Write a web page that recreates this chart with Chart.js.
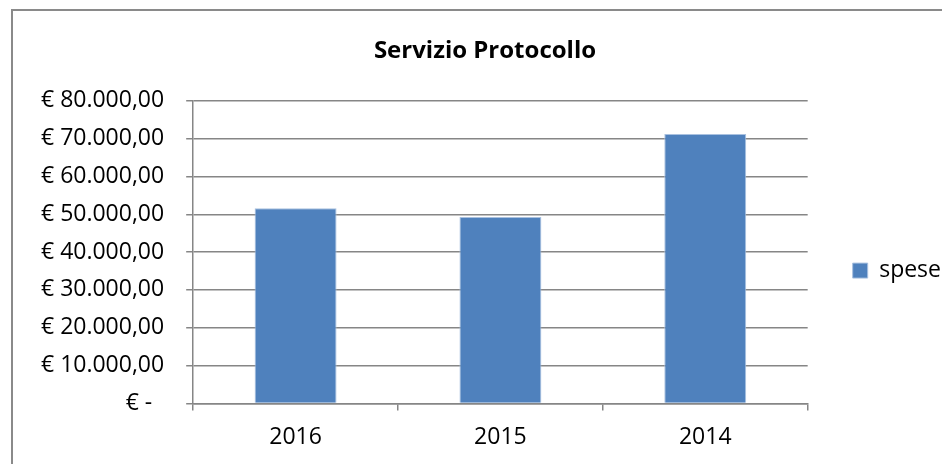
<!DOCTYPE html>
<html>
<head>
<meta charset="utf-8">
<script src="https://cdn.jsdelivr.net/npm/chart.js@4.4.0/dist/chart.umd.min.js"></script>
<style>
  html, body { margin: 0; padding: 0; background: #fff; overflow: hidden; }
  body { width: 942px; height: 464px; position: relative; }
  #frame { position: absolute; left: 11px; top: 9px; width: 1000px; height: 1000px; border: 2px solid #8a8a8a; }
  #wrap { position: absolute; left: 19px; top: 10px; width: 932px; height: 454px; }
</style>
</head>
<body>
<div id="frame"></div>
<div id="wrap"><canvas id="chart"></canvas></div>
<script>
// valori
const categories = ['2016', '2015', '2014'];
const spese = [51600, 49300, 71200];
const yTicks = [0, 10000, 20000, 30000, 40000, 50000, 60000, 70000, 80000];

const FONT = "'Open Sans', sans-serif";
const GRID = '#868686';

function euro(v) {
    if (v === 0) return '€ -  ';
    const s = Math.round(v).toString().replace(/\B(?=(\d{3})+(?!\d))/g, '.');
    return '€ ' + s + ',00';
}

new Chart(document.getElementById('chart'), {
    type: 'bar',
    data: {
        labels: categories,
        datasets: [{
            label: 'spese',
            data: spese,
            backgroundColor: '#4f81bd',
            borderColor: '#a9c1e0',
            borderWidth: 1,
            categoryPercentage: 0.8,
            barPercentage: 0.5
        }]
    },
    options: {
        responsive: true,
        maintainAspectRatio: false,
        animation: false,
        layout: { padding: { left: 0, right: 0, top: 0, bottom: 0 } },
        plugins: {
            title: {
                display: true,
                text: 'Servizio Protocollo',
                color: '#000',
                font: { family: FONT, size: 24, weight: 'bold' },
                padding: { top: 27, bottom: 35 }
            },
            legend: {
                position: 'right',
                title: { display: true, text: ' ', font: { size: 1 }, padding: { top: 33, bottom: 33 } },
                labels: {
                    color: '#000',
                    font: { family: FONT, size: 23 },
                    boxWidth: 15,
                    boxHeight: 15,
                    padding: 45
                }
            },
            tooltip: { enabled: false }
        },
        scales: {
            x: {
                grid: { offset: true, drawOnChartArea: false, drawTicks: true, tickLength: 7, color: GRID, lineWidth: 1.5 },
                border: { color: GRID, width: 1.5 },
                ticks: { color: '#000', font: { family: FONT, size: 23 }, padding: 13 }
            },
            y: {
                min: 0,
                max: 80000,
                afterBuildTicks: (axis) => { axis.ticks = yTicks.map(v => ({ value: v })); },
                grid: { color: GRID, lineWidth: 1.5, tickLength: 7 },
                border: { color: GRID, width: 1.5 },
                ticks: { color: '#000', font: { family: FONT, size: 23 }, padding: 22, callback: (v) => euro(v) }
            }
        }
    }
});
</script>
</body>
</html>
